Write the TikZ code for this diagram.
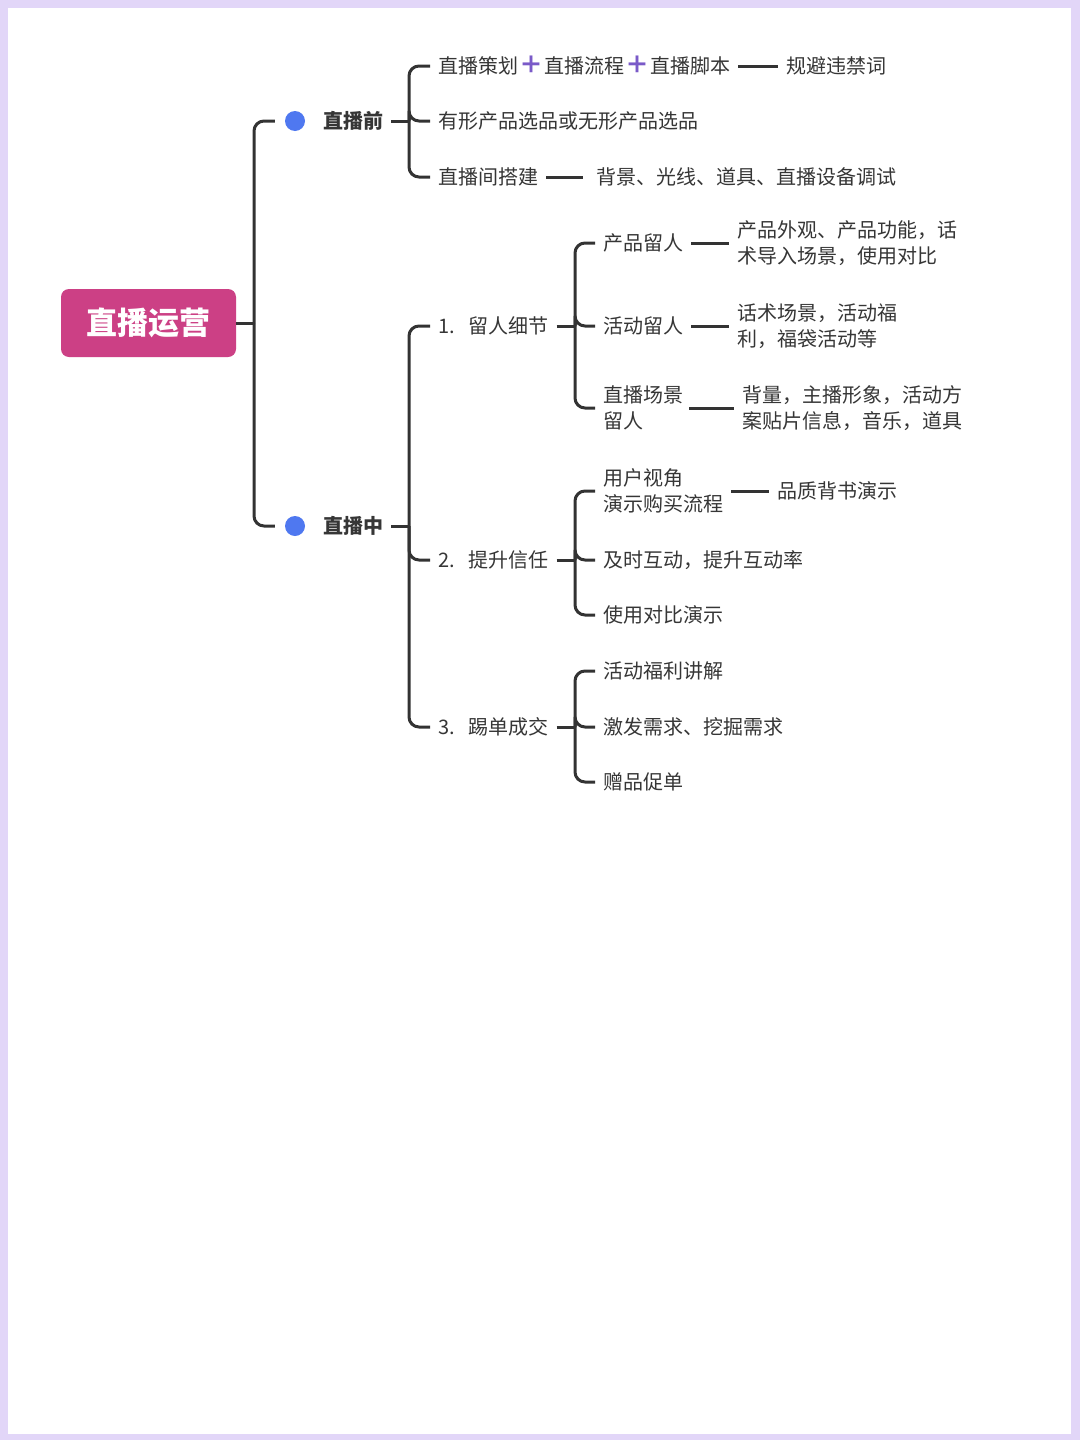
\documentclass[tikz,border=0pt]{standalone}
\usepackage{fontspec}
\setmainfont{Noto Sans CJK SC}
\definecolor{bgc}{HTML}{E2D6F8}
\definecolor{rootc}{HTML}{CC4085}
\definecolor{dotc}{HTML}{4F78F0}
\definecolor{plusc}{HTML}{7A5AC8}
\definecolor{txt}{HTML}{363636}
\definecolor{linec}{HTML}{333333}
\newcommand{\pls}{\hspace{1pt}{\color{plusc}\fontsize{24}{24}\selectfont\bfseries ＋}\hspace{1pt}}
\begin{document}
\begin{tikzpicture}[x=1pt,y=-1pt,
  leaf/.style={anchor=west,inner sep=0pt,outer xsep=8pt,text=txt,font=\fontsize{20}{26.5}\selectfont,align=left},
  topic/.style={anchor=west,inner sep=0pt,outer xsep=8pt,text=txt,font=\fontsize{20}{26.5}\selectfont\bfseries},
  dotn/.style={circle,fill=dotc,minimum size=20pt,inner sep=0pt},
  conn/.style={draw=linec,line width=3pt},
  brk/.style={conn,rounded corners=10pt}]
\fill[bgc] (0,0) rectangle (1080,1440);
\fill[white] (8,8) rectangle (1071,1434);
\useasboundingbox (0,0) rectangle (1080,1440);

% root
\node[fill=rootc,rounded corners=8pt,minimum width=175pt,minimum height=68pt,inner sep=0pt,
  text=white,font=\fontsize{31}{31}\selectfont\bfseries] (root) at (148.5,323) {直播运营};

% level 1
\node[dotn] (d1) at (295,121) {};
\node[topic] (pre) at (315,121) {直播前};
\node[dotn] (d2) at (295,526) {};
\node[topic] (mid) at (315,526) {直播中};

\coordinate (tr) at (254,323);
\draw[conn] (root.east) -- (tr);
\draw[brk,shorten >=10pt] (tr) |- (d1.west);
\draw[brk,shorten >=10pt] (tr) |- (d2.west);

% 直播前 children
\node[leaf] (c11) at (430,66) {直播策划\pls 直播流程\pls 直播脚本};
\node[leaf] (c11b) at (778,66) {规避违禁词};
\node[leaf] (c12) at (430,121) {有形产品选品或无形产品选品};
\node[leaf] (c13) at (430,177) {直播间搭建};
\node[leaf] (c13b) at (588,177) {背景、光线、道具、直播设备调试};

\coordinate (b1) at (409,121);
\draw[conn] (pre.east) -- (b1);
\draw[brk] (b1) |- (c11.west);
\draw[brk] (b1) |- (c12.west);
\draw[brk] (b1) |- (c13.west);
\draw[conn] (c11.east) -- (c11b.west);
\draw[conn] (c13.east) -- ([xshift=-5pt]c13b.west);

% 直播中 children
\node[leaf] (m1) at (430,326) {1.\hspace{14pt}留人细节};
\node[leaf] (m2) at (430,560) {2.\hspace{14pt}提升信任};
\node[leaf] (m3) at (430,727) {3.\hspace{14pt}踢单成交};

\coordinate (b2) at (409,526);
\draw[conn] (mid.east) -- (b2);
\draw[brk] (b2) |- (m1.west);
\draw[brk] (b2) |- (m2.west);
\draw[brk] (b2) |- (m3.west);

% 留人细节
\node[leaf] (g1) at (595,243) {产品留人};
\node[leaf] (g2) at (595,326) {活动留人};
\node[leaf] (g3) at (595,408) {直播场景\\留人};
\node[leaf] (t1) at (729,243) {产品外观、产品功能，话\\术导入场景，使用对比};
\node[leaf] (t2) at (729,326) {话术场景，活动福\\利，福袋活动等};
\node[leaf] (t3) at (734,408) {背量，主播形象，活动方\\案贴片信息，音乐，道具};

\coordinate (b3) at (575,326);
\draw[conn] (m1.east) -- (b3);
\draw[brk] (b3) |- (g1.west);
\draw[brk] (b3) |- (g2.west);
\draw[brk] (b3) |- (g3.west);
\draw[conn] (g1.east) -- (t1.west);
\draw[conn] (g2.east) -- (t2.west);
\draw[conn] ([xshift=-2pt]g3.east |- t3.west) -- (t3.west);

% 提升信任
\node[leaf] (h1) at (595,491) {用户视角\\演示购买流程};
\node[leaf] (h1b) at (769,491) {品质背书演示};
\node[leaf] (h2) at (595,560) {及时互动，提升互动率};
\node[leaf] (h3) at (595,615) {使用对比演示};

\coordinate (b4) at (575,560);
\draw[conn] (m2.east) -- (b4);
\draw[brk] (b4) |- (h1.west);
\draw[brk] (b4) |- (h2.west);
\draw[brk] (b4) |- (h3.west);
\draw[conn] (h1.east) -- (h1b.west);

% 踢单成交
\node[leaf] (k1) at (595,671) {活动福利讲解};
\node[leaf] (k2) at (595,727) {激发需求、挖掘需求};
\node[leaf] (k3) at (595,782) {赠品促单};

\coordinate (b5) at (575,727);
\draw[conn] (m3.east) -- (b5);
\draw[brk] (b5) |- (k1.west);
\draw[brk] (b5) |- (k2.west);
\draw[brk] (b5) |- (k3.west);
\end{tikzpicture}
\end{document}
